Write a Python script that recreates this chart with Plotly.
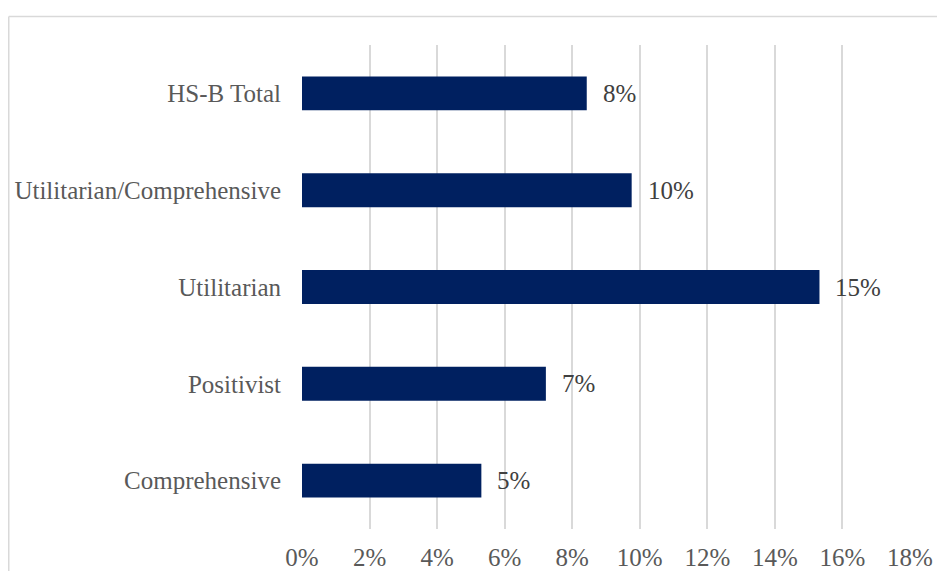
import plotly.graph_objects as go

categories = ["HS-B Total", "Utilitarian/Comprehensive", "Utilitarian", "Positivist", "Comprehensive"]
values = [0.0843, 0.0976, 0.1532, 0.0722, 0.0531]
tick_vals = [0, 0.02, 0.04, 0.06, 0.08, 0.10, 0.12, 0.14, 0.16, 0.18]

OFF = 8  # page body margin
W, H = 945 - 2 * OFF, 579 - 2 * OFF
# plot area in page pixels: x 302..910, y 45..529
L, T = 302 - OFF, 45 - OFF
R = W - (910 - OFF)
B = H - (529 - OFF)
pw = W - L - R
ph = H - T - B

font = "Liberation Serif, Times New Roman, serif"
FS = 25

fig = go.Figure()
fig.add_trace(go.Bar(
    y=categories, x=values, orientation="h",
    marker=dict(color="#002060", line=dict(width=0)),
    hoverinfo="skip",
))

for c, v in zip(categories, values):
    fig.add_annotation(x=v, y=c, xref="x", yref="y", text=f"{v:.0%}",
                       showarrow=False, xanchor="left", yanchor="middle",
                       xshift=14, font=dict(family=font, size=FS, color="#404040"))

# outer chart border (light gray) partially visible; coords in page pixels
px = lambda p: (p - OFF - L) / pw
py = lambda p: (H - B - (p - OFF)) / ph
fig.add_shape(type="line", xref="paper", yref="paper",
              x0=px(8.75), x1=px(8.75), y0=py(16.5), y1=py(600),
              line=dict(color="#d9d9d9", width=1.5))
fig.add_shape(type="line", xref="paper", yref="paper",
              x0=px(8.75), x1=px(960), y0=py(16.5), y1=py(16.5),
              line=dict(color="#d9d9d9", width=1.5))

fig.update_layout(
    template="none",
    width=W, height=H,
    margin=dict(l=L, r=R, t=T, b=B, pad=0, autoexpand=False),
    paper_bgcolor="white", plot_bgcolor="white",
    bargap=0.65, showlegend=False,
    font=dict(family=font, size=FS, color="#595959"),
)
fig.update_xaxes(
    range=[0, 0.18], tickvals=tick_vals, tickformat=".0%",
    showgrid=True, gridcolor="#d9d9d9", gridwidth=1.5,
    zeroline=False, showline=False, automargin=False,
    ticks="", ticklabelstandoff=11,
    tickfont=dict(family=font, size=FS, color="#595959"),
    fixedrange=True,
)
fig.update_yaxes(
    categoryorder="array", categoryarray=categories, autorange="reversed",
    showgrid=False, zeroline=False, showline=False, automargin=False,
    ticks="", ticklabelstandoff=20,
    tickfont=dict(family=font, size=FS, color="#595959"),
    fixedrange=True,
)

fig.write_html("out.html")
